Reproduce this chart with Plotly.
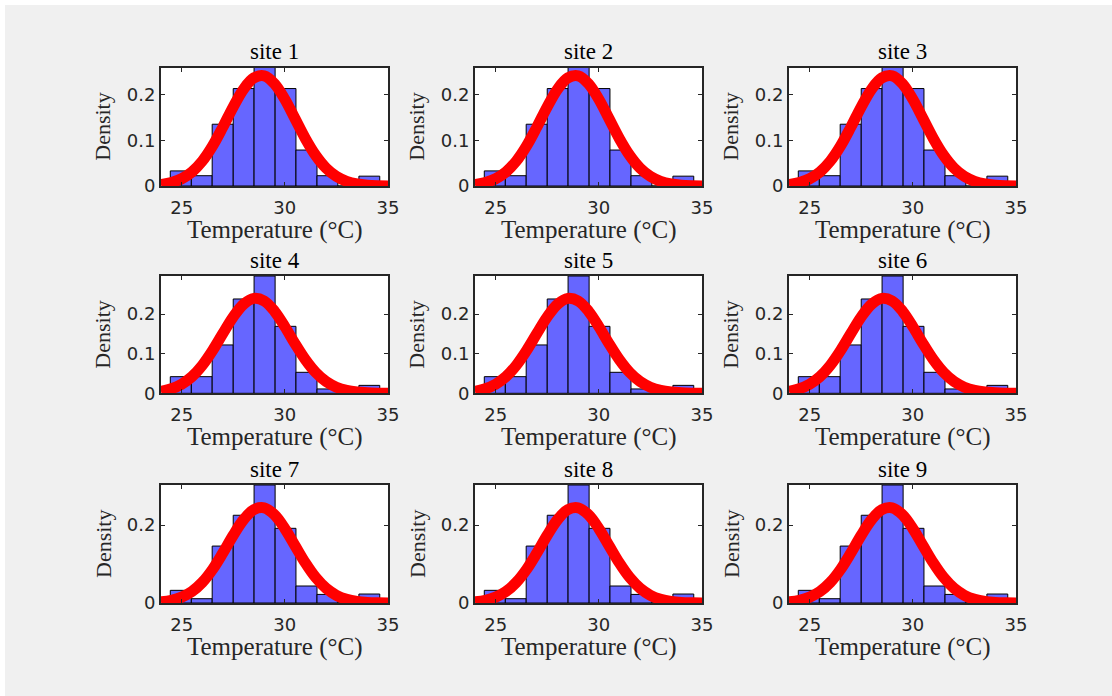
import plotly.graph_objects as go

# ---------------- data ----------------
site_names = ["site 1", "site 2", "site 3", "site 4", "site 5",
              "site 6", "site 7", "site 8", "site 9"]
site_group = [0, 0, 0, 1, 1, 1, 2, 2, 2]

bin_edges = [24.45, 25.47, 26.48, 27.50, 28.51, 29.53,
             30.54, 31.56, 32.57, 33.59, 34.60]

density_a = [0.033, 0.0225, 0.135, 0.213, 0.259, 0.213, 0.0786, 0.0225, 0.0, 0.0215]
density_b = [0.042, 0.042, 0.122, 0.238, 0.296, 0.169, 0.053, 0.011, 0.0, 0.020]
density_c = [0.0325, 0.011, 0.146, 0.225, 0.3026, 0.1915, 0.0436, 0.022, 0.0, 0.023]

curve_x = [24.0, 24.5, 25.0, 25.5, 26.0, 26.5, 27.0, 27.5, 28.0, 28.5, 29.0, 29.5,
           30.0, 30.5, 31.0, 31.5, 32.0, 32.5, 33.0, 33.5, 34.0, 34.5, 35.0]
curve_a = [0.0032, 0.0075, 0.0159, 0.0308, 0.0544, 0.0877, 0.129, 0.173, 0.2117,
           0.2364, 0.2408, 0.2237, 0.1897, 0.1467, 0.1034, 0.0666, 0.0391, 0.0209,
           0.0102, 0.0046, 0.0019, 0.0007, 0.0002]
curve_b = [0.0052, 0.0114, 0.0230, 0.0421, 0.0706, 0.108, 0.151, 0.1928, 0.2249,
           0.2396, 0.2331, 0.2073, 0.1683, 0.1248, 0.0846, 0.0524, 0.0296, 0.0153,
           0.0072, 0.0031, 0.0012, 0.0004, 0.0001]
curve_c = [0.0029, 0.0069, 0.0150, 0.0295, 0.0529, 0.0864, 0.1285, 0.1737, 0.2138,
           0.2394, 0.244, 0.2262, 0.1909, 0.1466, 0.1024, 0.0651, 0.0377, 0.0198,
           0.0095, 0.0041, 0.0016, 0.0006, 0.0002]

densities = [density_a, density_b, density_c]
curves = [curve_a, curve_b, curve_c]
y_max = [0.259, 0.296, 0.3026]
y_ticks = [[0, 0.1, 0.2], [0, 0.1, 0.2], [0, 0.2]]
y_ticktext = [["0", "0.1", "0.2"], ["0", "0.1", "0.2"], ["0", "0.2"]]
x_ticks = [25, 30, 35]
x_ticktext = ["25", "30", "35"]
x_range = [24, 35]

# ---------------- layout geometry (pixels) ----------------
W, H = 1112, 696
col_px = [(161, 388), (475, 702), (789, 1016)]
row_px = [(67.5, 186), (276, 393.3), (485, 603)]

def px(x):
    return x / W

def py(y):
    return 1 - y / H

bin_centers = [(bin_edges[i] + bin_edges[i + 1]) / 2 for i in range(len(bin_edges) - 1)]
bin_widths = [bin_edges[i + 1] - bin_edges[i] for i in range(len(bin_edges) - 1)]

AX = "#262626"
SERIF = "Liberation Serif, Times New Roman, serif"
SANS = "DejaVu Sans, Arial, sans-serif"

fig = go.Figure()
layout = dict(
    width=W, height=H,
    paper_bgcolor="#f0f0f0", plot_bgcolor="white",
    margin=dict(l=0, r=0, t=0, b=0, autoexpand=False),
    showlegend=False,
    annotations=[], shapes=[],
)

for i, name in enumerate(site_names):
    g = site_group[i]
    r, c = i // 3, i % 3
    xa = "x" if i == 0 else f"x{i+1}"
    ya = "y" if i == 0 else f"y{i+1}"
    fig.add_trace(go.Bar(
        x=bin_centers, y=densities[g], width=bin_widths,
        marker=dict(color="#6666ff", line=dict(color="black", width=1)),
        xaxis=xa, yaxis=ya, hoverinfo="skip"))
    fig.add_trace(go.Scatter(
        x=curve_x, y=curves[g], mode="lines",
        line=dict(color="#ff0000", width=11, shape="spline"),
        xaxis=xa, yaxis=ya, hoverinfo="skip"))

    x0, x1 = col_px[c]
    y0, y1 = row_px[r]
    xkey = "xaxis" if i == 0 else f"xaxis{i+1}"
    ykey = "yaxis" if i == 0 else f"yaxis{i+1}"
    layout[xkey] = dict(
        domain=[px(x0), px(x1)], anchor=ya, range=x_range,
        tickvals=x_ticks, ticktext=x_ticktext,
        ticks="inside", ticklen=4, tickcolor=AX, tickwidth=1,
        showline=True, linecolor=AX, linewidth=2, mirror="ticks",
        showgrid=False, zeroline=False, fixedrange=True,
        tickfont=dict(family=SANS, size=18, color=AX),
        ticklabelstandoff=4)
    layout[ykey] = dict(
        domain=[py(y1), py(y0)], anchor=xa, range=[0, y_max[g]],
        tickvals=y_ticks[r], ticktext=y_ticktext[r],
        ticks="inside", ticklen=4, tickcolor=AX, tickwidth=1,
        showline=True, linecolor=AX, linewidth=2, mirror="ticks",
        showgrid=False, zeroline=False, fixedrange=True,
        tickfont=dict(family=SANS, size=18, color=AX),
        ticklabelstandoff=0)

    cx = (x0 + x1) / 2
    layout["annotations"].append(dict(
        text=name, x=px(cx), y=py(y0 - 16), xref="paper", yref="paper",
        xanchor="center", yanchor="middle", showarrow=False,
        font=dict(family=SERIF, size=23, color="black")))
    layout["annotations"].append(dict(
        text="Temperature (°C)", x=px(cx), y=py(y1 + 44), xref="paper", yref="paper",
        xanchor="center", yanchor="middle", showarrow=False,
        font=dict(family=SERIF, size=25, color=AX)))
    layout["annotations"].append(dict(
        text="Density", x=px(x0 - 58), y=py((y0 + y1) / 2), xref="paper", yref="paper",
        xanchor="center", yanchor="middle", showarrow=False, textangle=-90,
        font=dict(family=SERIF, size=22, color=AX)))

# white border strips at the top and left edge
layout["shapes"].append(dict(type="rect", xref="paper", yref="paper",
                             x0=0, x1=1, y0=py(5), y1=1,
                             fillcolor="white", line=dict(width=0), layer="below"))
layout["shapes"].append(dict(type="rect", xref="paper", yref="paper",
                             x0=0, x1=px(5), y0=0, y1=1,
                             fillcolor="white", line=dict(width=0), layer="below"))

fig.update_layout(**layout)
fig.write_html("out.html",
               config={"displayModeBar": False, "staticPlot": True},
               post_script="document.body.style.margin='0px';"
                           "document.body.style.padding='0px';")
